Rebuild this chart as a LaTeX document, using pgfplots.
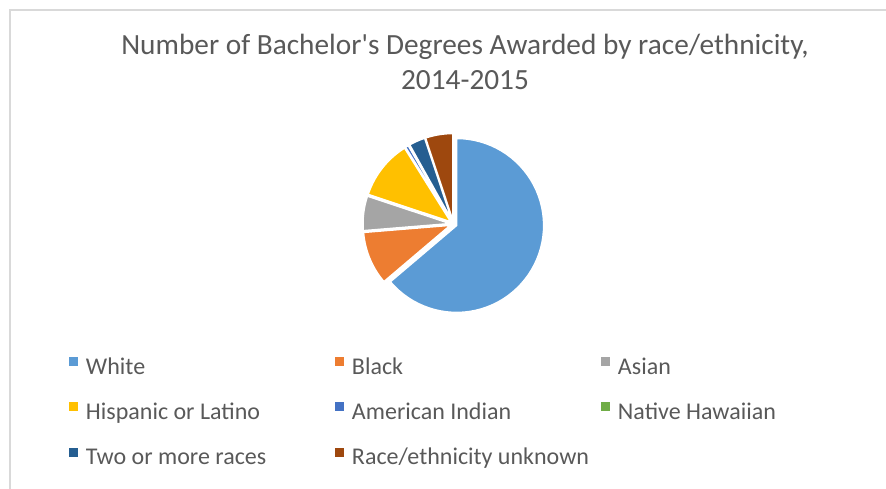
\documentclass[border=0pt]{standalone}
\usepackage{pgfplots}
\pgfplotsset{compat=1.18}
\usepackage{pgfplotstable}
\usepgfplotslibrary{polar}
\usepackage{fontspec}
\setmainfont{Carlito}[Ligatures=TeXOff]
\definecolor{cWhite}{HTML}{5B9BD5}
\definecolor{cBlack}{HTML}{ED7D31}
\definecolor{cAsian}{HTML}{A5A5A5}
\definecolor{cHisp}{HTML}{FFC000}
\definecolor{cAmInd}{HTML}{4472C4}
\definecolor{cNatHaw}{HTML}{70AD47}
\definecolor{cTwo}{HTML}{255E91}
\definecolor{cUnk}{HTML}{9E480E}
\definecolor{txt}{HTML}{595959}
\definecolor{frame}{HTML}{D9D9D9}

% share of bachelor's degrees, percent
\pgfplotstableread{
group value col
White 63.8 cWhite
Black 9.9 cBlack
Asian 6.4 cAsian
Hispanic 11.0 cHisp
AmInd 0.6 cAmInd
NatHaw 0.2 cNatHaw
TwoMore 3.0 cTwo
Unknown 5.1 cUnk
}\piedata

\begin{document}
\begin{tikzpicture}
\path[use as bounding box] (0pt,0pt) rectangle (886pt,489pt);
\draw[line width=1.5pt, color=frame] (10pt,0pt) -- (10pt,479pt) -- (886pt,479pt);
\node[font=\fontsize{29.3}{35}\selectfont, text=txt, align=center] at (465pt,427pt)
  {Number of Bachelor's Degrees Awarded by race/ethnicity,\\2014-2015};
\begin{polaraxis}[
  at={(453.5pt,265pt)}, anchor=center,
  scale only axis, width=174pt, height=174pt,
  hide axis, ymin=0, ymax=1, clip=false,
  legend columns=3,
  legend cell align=left,
  legend image code/.code={\fill[#1, draw=none] (0pt,2.3pt) rectangle (9pt,11.3pt);},
  legend style={draw=none, fill=none, at={(-1.7098,-0.2644)}, anchor=north west,
    inner sep=0pt, outer sep=0pt, column sep=8pt, row sep=23pt,
    font=\fontsize{24}{28}\selectfont, text=txt,
    nodes={inner sep=0pt, text height=17pt, text depth=5pt}},
]
\pgfmathsetmacro\cum{0}
\pgfplotsforeachungrouped \i in {0,...,7}{%
  \pgfplotstablegetelem{\i}{value}\of\piedata \let\val\pgfplotsretval
  \pgfplotstablegetelem{\i}{col}\of\piedata \let\col\pgfplotsretval
  \pgfmathsetmacro\aA{90-3.6*(\cum+\val)}%
  \pgfmathsetmacro\aB{90-3.6*\cum}%
  \pgfmathsetmacro\dx{3.5*cos((\aA+\aB)/2)}%
  \pgfmathsetmacro\dy{3.5*sin((\aA+\aB)/2)}%
  \edef\doslice{\noexpand\addplot[forget plot, fill=\col, draw=white, line width=1.5pt, domain=\aA:\aB, samples=60, xshift=\dx pt, yshift=\dy pt] {1} -- (axis cs:0,0) -- cycle;}%
  \doslice
  \pgfmathsetmacro\cum{\cum+\val}%
}
\addlegendimage{fill=cWhite}\addlegendentry{\makebox[241pt][l]{White}}
\addlegendimage{fill=cBlack}\addlegendentry{\makebox[241pt][l]{Black}}
\addlegendimage{fill=cAsian}\addlegendentry{\makebox[241pt][l]{Asian}}
\addlegendimage{fill=cHisp}\addlegendentry{\makebox[241pt][l]{Hispanic or Latino}}
\addlegendimage{fill=cAmInd}\addlegendentry{\makebox[241pt][l]{American Indian}}
\addlegendimage{fill=cNatHaw}\addlegendentry{\makebox[241pt][l]{Native Hawaiian}}
\addlegendimage{fill=cTwo}\addlegendentry{\makebox[241pt][l]{Two or more races}}
\addlegendimage{fill=cUnk}\addlegendentry{\makebox[241pt][l]{Race/ethnicity unknown}}
\end{polaraxis}
\end{tikzpicture}
\end{document}
